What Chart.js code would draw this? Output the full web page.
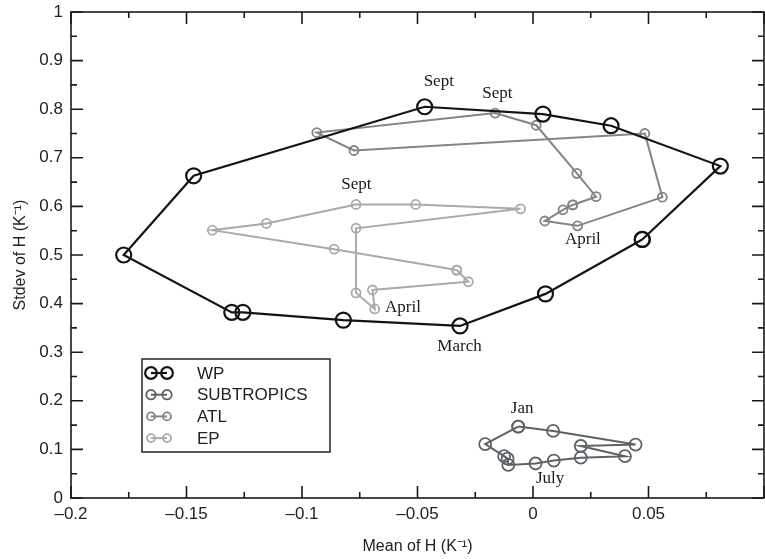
<!DOCTYPE html>
<html>
<head>
<meta charset="utf-8">
<script src="https://cdn.jsdelivr.net/npm/chart.js@4/dist/chart.umd.min.js"></script>
<style>
html, body { margin: 0; padding: 0; background: #fff; }
canvas { display: block; }
</style>
</head>
<body>
<canvas id="grafica" width="765" height="559"></canvas>
<script>
// months Jan..Dec, each loop is closed back to Jan
const meses = ["Jan", "Feb", "Mar", "Apr", "May", "Jun", "Jul", "Aug", "Sep", "Oct", "Nov", "Dec"];

const wpX = [0.0473, 0.0054, -0.0316, -0.0821, -0.1256, -0.1304, -0.1772, -0.1469, -0.0469, 0.0043, 0.0338, 0.0811];
const wpY = [0.532, 0.420, 0.354, 0.366, 0.382, 0.382, 0.500, 0.663, 0.805, 0.790, 0.766, 0.683];

const subX = [-0.0064, 0.0087, 0.0444, 0.0207, 0.0398, 0.0207, 0.0090, 0.0011, -0.0107, -0.0110, -0.0125, -0.0207];
const subY = [0.147, 0.138, 0.110, 0.107, 0.086, 0.083, 0.077, 0.071, 0.068, 0.081, 0.086, 0.111];

const atlX = [0.0172, 0.0130, 0.0051, 0.0193, 0.0560, 0.0484, -0.0775, -0.0936, -0.0164, 0.0014, 0.0190, 0.0273];
const atlY = [0.603, 0.593, 0.570, 0.560, 0.619, 0.750, 0.715, 0.752, 0.792, 0.767, 0.668, 0.620];

const epX = [-0.0330, -0.0280, -0.0695, -0.0685, -0.0766, -0.0766, -0.0054, -0.0508, -0.0766, -0.1154, -0.1388, -0.0861];
const epY = [0.469, 0.445, 0.428, 0.389, 0.422, 0.555, 0.595, 0.604, 0.604, 0.565, 0.551, 0.512];

// month labels written on the plot
const notaTexto = ["Sept", "Sept", "Sept", "April", "April", "March", "Jan", "July"];
const notaX = [-0.0408, -0.0154, -0.0765, 0.0216, -0.0563, -0.0318, -0.0047, 0.0074];
const notaY = [0.856, 0.833, 0.646, 0.531, 0.391, 0.311, 0.185, 0.041];

const SANS = "'Liberation Sans', Arial, Helvetica, sans-serif";
const SERIF = "'Liberation Serif', 'Times New Roman', serif";

function puntos(xs, ys) {
    let d = xs.map((x, i) => ({ x: x, y: ys[i] }));
    d.push(d[0]);
    return d;
}

function serie(nombre, xs, ys, color, radio, ancho) {
    return {
        label: nombre,
        data: puntos(xs, ys),
        showLine: true,
        borderColor: color,
        borderWidth: ancho,
        backgroundColor: "transparent",
        pointBorderColor: color,
        pointBackgroundColor: "transparent",
        pointRadius: radio,
        pointBorderWidth: 1.8,
        pointHoverRadius: radio,
        tension: 0
    };
}

const datasets = [
    serie("WP", wpX, wpY, "#141414", 7.5, 2.2),
    serie("SUBTROPICS", subX, subY, "#5c6266", 6, 2),
    serie("ATL", atlX, atlY, "#7f8589", 4.5, 2),
    serie("EP", epX, epY, "#a5abaf", 4.5, 2)
];
datasets[0].pointBorderWidth = 2.2;

function fmt(v) {
    let r = Math.round(v * 1000) / 1000;
    if (r === 0) return "0";
    return (r < 0 ? "\u2013" : "") + String(Math.abs(r));
}

// box round the plot with inward ticks on all four sides
const marco = {
    id: "marco",
    afterDraw(chart) {
        let ctx = chart.ctx;
        let a = chart.chartArea;
        let sx = chart.scales.x, sy = chart.scales.y;
        ctx.save();
        ctx.strokeStyle = "#1a1a1a";
        ctx.lineWidth = 1.6;
        ctx.strokeRect(a.left, a.top, a.right - a.left, a.bottom - a.top);
        ctx.beginPath();
        for (let i = 0; i <= 12; i++) {
            let px = sx.getPixelForValue(-0.2 + i * 0.025);
            let L = i % 2 === 0 ? 12 : 6;
            ctx.moveTo(px, a.bottom); ctx.lineTo(px, a.bottom - L);
            ctx.moveTo(px, a.top); ctx.lineTo(px, a.top + L);
        }
        for (let i = 0; i <= 20; i++) {
            let py = sy.getPixelForValue(i * 0.05);
            let L = i % 2 === 0 ? 12 : 6;
            ctx.moveTo(a.left, py); ctx.lineTo(a.left + L, py);
            ctx.moveTo(a.right, py); ctx.lineTo(a.right - L, py);
        }
        ctx.stroke();

        // legend
        let lx = a.left + 71, ly = a.top + 347;
        let lw = 188, lh = 93;
        ctx.fillStyle = "#fff";
        ctx.fillRect(lx, ly, lw, lh);
        ctx.strokeStyle = "#222";
        ctx.lineWidth = 1.5;
        ctx.strokeRect(lx, ly, lw, lh);
        ctx.font = "17px " + SANS;
        ctx.textBaseline = "middle";
        chart.data.datasets.forEach((ds, i) => {
            let cy = ly + 14 + i * 21.7;
            let r = Math.max(ds.pointRadius * 0.78, 4);
            let x1 = lx + 9, x2 = lx + 25;
            ctx.strokeStyle = ds.borderColor;
            ctx.lineWidth = ds.borderWidth;
            ctx.beginPath();
            ctx.moveTo(x1, cy); ctx.lineTo(x2, cy);
            ctx.stroke();
            ctx.lineWidth = ds.pointBorderWidth;
            ctx.beginPath(); ctx.arc(x1, cy, r, 0, Math.PI * 2); ctx.stroke();
            ctx.beginPath(); ctx.arc(x2, cy, r, 0, Math.PI * 2); ctx.stroke();
            ctx.fillStyle = "#222";
            ctx.textAlign = "left";
            ctx.fillText(ds.label, lx + 55, cy + 1);
        });
        ctx.restore();
    },
    afterDatasetsDraw(chart) {
        let ctx = chart.ctx;
        let sx = chart.scales.x, sy = chart.scales.y;
        ctx.save();
        ctx.font = "17px " + SERIF;
        ctx.fillStyle = "#1a1a1a";
        ctx.textAlign = "center";
        ctx.textBaseline = "middle";
        notaTexto.forEach((t, i) => {
            ctx.fillText(t, sx.getPixelForValue(notaX[i]), sy.getPixelForValue(notaY[i]));
        });
        ctx.restore();
    }
};

let ctx = document.getElementById("grafica");

new Chart(ctx, {
    type: "scatter",
    data: { datasets: datasets },
    options: {
        responsive: false,
        animation: false,
        events: [],
        layout: { autoPadding: false, padding: { top: 12, right: 1, left: 0, bottom: 0 } },
        plugins: {
            legend: { display: false },
            tooltip: { enabled: false }
        },
        scales: {
            x: {
                type: "linear",
                min: -0.2,
                max: 0.1,
                grid: { display: false, drawTicks: false },
                border: { display: false },
                ticks: {
                    stepSize: 0.05,
                    padding: 6,
                    maxRotation: 0,
                    autoSkip: false,
                    color: "#222",
                    font: { family: SANS, size: 17 },
                    callback: v => (Math.abs(v - 0.1) < 1e-6 ? "" : fmt(v))
                },
                title: {
                    display: true,
                    text: "Mean of H (K\u207B\u00B9)",
                    color: "#222",
                    font: { family: SANS, size: 16 },
                    padding: { top: 0, bottom: 3 }
                },
                afterFit: s => {
                    s.height = 61;
                    s.paddingLeft = 0;
                    s.paddingRight = 0;
                }
            },
            y: {
                type: "linear",
                min: 0,
                max: 1,
                grid: { display: false, drawTicks: false },
                border: { display: false },
                ticks: {
                    stepSize: 0.1,
                    padding: 8,
                    color: "#222",
                    font: { family: SANS, size: 17 },
                    callback: v => fmt(v)
                },
                title: {
                    display: true,
                    text: "Stdev of H (K\u207B\u00B9)",
                    color: "#222",
                    font: { family: SANS, size: 16 },
                    padding: { top: 11, bottom: 0 }
                },
                afterFit: s => {
                    s.width = 71;
                    s.paddingTop = 0;
                    s.paddingBottom = 0;
                }
            }
        }
    },
    plugins: [marco]
});
</script>
</body>
</html>
